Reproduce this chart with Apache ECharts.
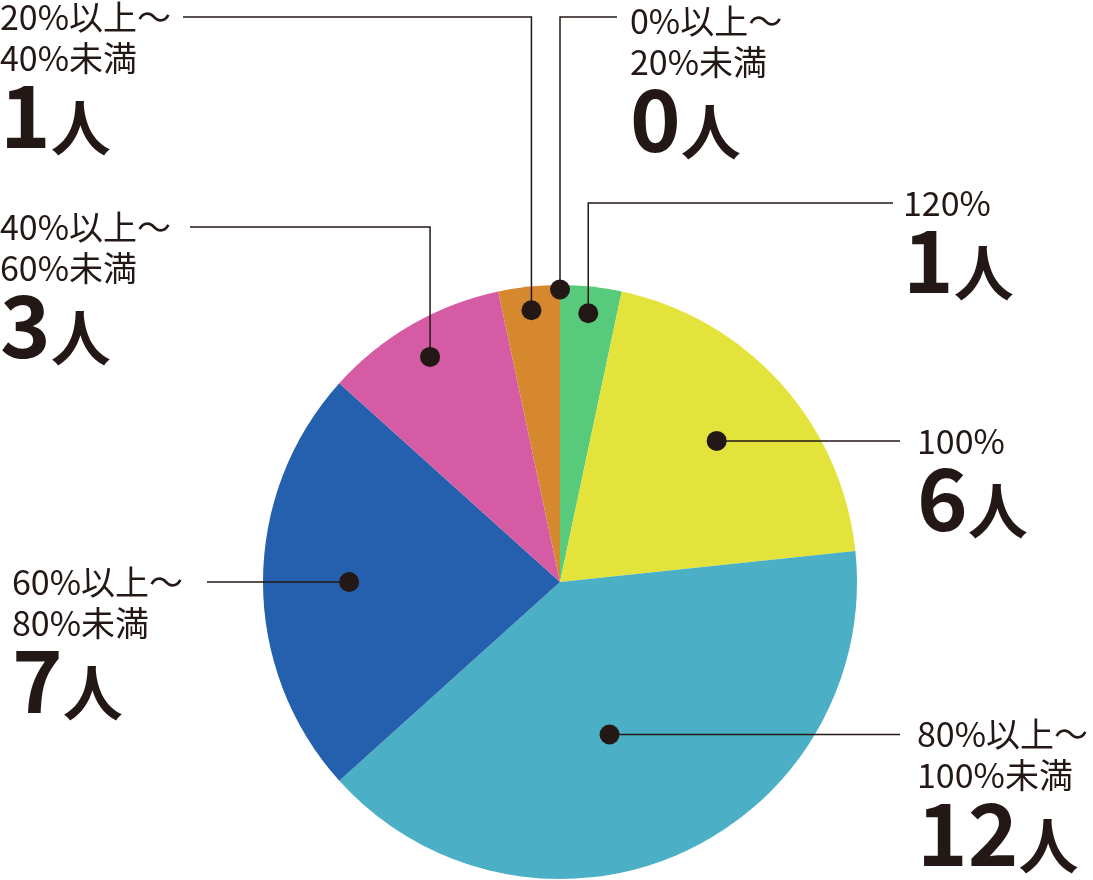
<!DOCTYPE html>
<html><head><meta charset="utf-8">
<script src="https://cdn.jsdelivr.net/npm/echarts@6/dist/echarts.min.js"></script>
<style>html,body{margin:0;padding:0;background:#fff}#c{width:1093px;height:880px}</style>
</head><body><div id="c"></div>
<script>
// ---- data ----
const categories = ['120%', '100%', '80%以上～\n100%未満', '60%以上～\n80%未満', '40%以上～\n60%未満', '20%以上～\n40%未満', '0%以上～\n20%未満'];
const counts = [1, 6, 12, 7, 3, 1, 0];
const unit = '人';

// ---- style / layout ----
const colors = ['#57CA7B', '#E3E33B', '#4BB0C5', '#2460AE', '#D55BA5', '#D6882E', '#999999'];
const INK = '#231815';
const CX = 560, CY = 582, R = 297;
const dotRadius = [0.91, 0.71, 0.54, 0.71, 0.875, 0.92, 0.985];
const dotAngleShift = [0, 0, 0.5, 0, 0, 0, 0]; // in value units
// elbowY (null = straight), line end x, label x, label y offset
const labelCfg = [
  [203, 893, 903, 0],
  [null, 900, 917, 0],
  [null, 900, 917, 0],
  [null, 207, 12, 0],
  [227, 190, 0, 0],
  [17, 183, 0, 0],
  [17, 617, 630, 4]
];

const total = counts.reduce((a, b) => a + b, 0);
function midValue(i) { let s = 0; for (let k = 0; k < i; k++) s += counts[k]; return s + counts[i] / 2 + dotAngleShift[i]; }
function dotPos(i) {
  const a = midValue(i) / total * 2 * Math.PI;
  const r = R * dotRadius[i];
  return [CX + r * Math.sin(a), CY - r * Math.cos(a)];
}

const chart = echarts.init(document.getElementById('c'), null, { renderer: 'canvas' });
const FONT = "'Noto Sans CJK JP', 'Noto Sans', sans-serif";
const pieData = categories.map((c, i) => ({ name: c, value: counts[i], itemStyle: { color: colors[i] } }));
chart.setOption({
  animation: false,
  backgroundColor: '#ffffff',
  polar: { center: [CX, CY], radius: R },
  angleAxis: { type: 'value', min: 0, max: total, startAngle: 90, clockwise: true, show: false },
  radiusAxis: { type: 'value', min: 0, max: 1, show: false },
  series: [
    {
      type: 'pie',
      z: 1,
      center: [CX, CY],
      radius: R,
      startAngle: 90,
      clockwise: true,
      silent: true,
      data: pieData,
      itemStyle: { borderWidth: 0 },
      label: { show: false },
      labelLine: { show: false }
    },
    {
      type: 'pie',
      z: 3,
      center: [CX, CY],
      radius: R,
      startAngle: 90,
      clockwise: true,
      silent: true,
      avoidLabelOverlap: false,
      minShowLabelAngle: 0,
      data: categories.map((c, i) => ({ name: c, value: counts[i] })),
      itemStyle: { color: 'rgba(0,0,0,0)', borderWidth: 0 },
      label: {
        show: true,
        position: 'outside',
        color: INK,
        fontFamily: FONT,
        formatter: p => {
          const lines = p.name.split('\n').map(l => '{s|' + l + '}').join('\n');
          return lines + '\n{n|' + p.value + '}{u|' + unit + '}';
        },
        rich: {
          s: { fontSize: 34, lineHeight: 41, color: INK, fontFamily: FONT },
          n: { fontSize: 86, fontWeight: 'bold', lineHeight: 80, verticalAlign: 'bottom', color: INK, fontFamily: FONT },
          u: { fontSize: 60, fontWeight: 'bold', lineHeight: 62, verticalAlign: 'bottom', color: INK, fontFamily: FONT }
        }
      },
      labelLine: { show: true, lineStyle: { color: INK, width: 1.5 } },
      labelLayout: params => {
        const i = params.dataIndex;
        const cfg = labelCfg[i];
        const d = dotPos(i);
        let pts, lineY;
        if (cfg[0] === null) {
          lineY = d[1];
          pts = [[d[0], d[1]], [(d[0] + cfg[1]) / 2, d[1]], [cfg[1], d[1]]];
        } else {
          lineY = cfg[0];
          pts = [[d[0], d[1]], [d[0], cfg[0]], [cfg[1], cfg[0]]];
        }
        return {
          x: cfg[2],
          y: lineY - 20.5 + cfg[3],
          align: 'left',
          verticalAlign: 'top',
          labelLinePoints: pts
        };
      },
      emphasis: { disabled: true }
    },
    {
      type: 'scatter',
      coordinateSystem: 'polar',
      symbol: 'circle',
      symbolSize: 20,
      itemStyle: { color: INK, opacity: 1 },
      z: 5,
      silent: true,
      data: counts.map((v, i) => [dotRadius[i], midValue(i)])
    }
  ]
});
</script></body></html>
